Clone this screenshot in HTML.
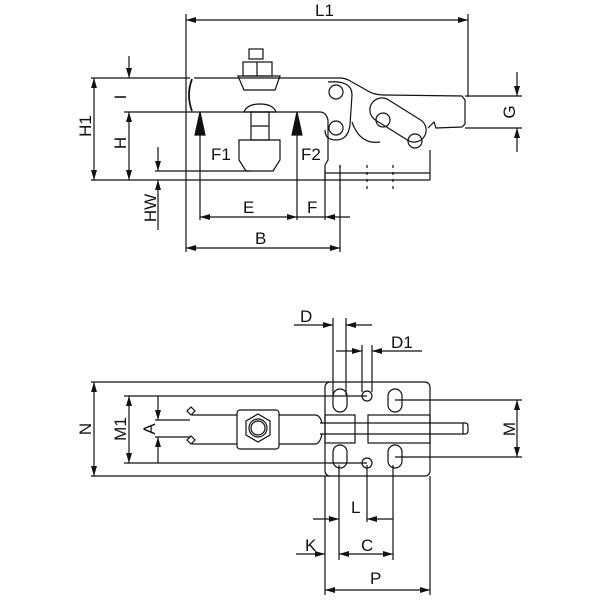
<!DOCTYPE html>
<html><head><style>body{margin:0;background:#fff}svg{display:block}text{font-family:"Liberation Sans",sans-serif;font-size:17px;fill:#111}</style></head>
<body>
<svg width="600" height="600" viewBox="0 0 600 600" xmlns="http://www.w3.org/2000/svg">
<defs>
<marker id="a" viewBox="0 0 10 6" refX="10" refY="3" markerWidth="10" markerHeight="6" orient="auto-start-reverse" markerUnits="userSpaceOnUse"><path d="M0,0L10,3L0,6z" fill="#111"/></marker>
</defs>
<g stroke="#111" stroke-width="1.2" fill="none">
<!-- TOP VIEW dims -->
<line x1="186" y1="14" x2="186" y2="252"/><line x1="468" y1="14" x2="468" y2="97"/>
<line x1="186" y1="20" x2="468" y2="20" marker-start="url(#a)" marker-end="url(#a)"/>
<line x1="91" y1="78" x2="190" y2="78"/><line x1="124" y1="112" x2="195" y2="112"/>
<line x1="91" y1="180" x2="430" y2="180"/>
<line x1="94" y1="78" x2="94" y2="180" marker-start="url(#a)" marker-end="url(#a)"/>
<line x1="129" y1="56" x2="129" y2="78" marker-end="url(#a)"/>
<line x1="129" y1="112" x2="129" y2="180" marker-start="url(#a)" marker-end="url(#a)"/>
<line x1="155" y1="171" x2="250" y2="171"/>
<line x1="158" y1="147" x2="158" y2="171" marker-end="url(#a)"/>
<line x1="158" y1="230" x2="158" y2="180" marker-end="url(#a)"/>
<line x1="200" y1="220" x2="200" y2="112"/>
<path d="M195,135L200,112L205,135z" fill="#111"/>
<line x1="297" y1="220" x2="297" y2="112"/>
<path d="M292,135L297,112L302,135z" fill="#111"/>
<line x1="200" y1="217" x2="297" y2="217" marker-start="url(#a)" marker-end="url(#a)"/>
<line x1="297" y1="217" x2="325" y2="217"/>
<line x1="350" y1="217" x2="325" y2="217" marker-end="url(#a)"/>
<line x1="325" y1="170" x2="325" y2="220"/>
<line x1="340" y1="165" x2="340" y2="252"/>
<line x1="186" y1="248" x2="340" y2="248" marker-start="url(#a)" marker-end="url(#a)"/>
<line x1="465" y1="96" x2="522" y2="96"/><line x1="465" y1="128" x2="522" y2="128"/>
<line x1="517" y1="72" x2="517" y2="96" marker-end="url(#a)"/>
<line x1="517" y1="152" x2="517" y2="128" marker-end="url(#a)"/>
<!-- clamp top -->
<path d="M192,79Q186,95 192,111" stroke-width="1.8"/>
<path d="M194,78L340,78Q346,78 352,82L368,91Q374,95 385,95L462,96L465,100L465,124L462,127L436,128L434,122L428,128"/>
<path d="M194,112L320,112Q326,112 328,120L328,160L325,165"/>
<circle cx="336" cy="92" r="7"/><circle cx="336" cy="128" r="7"/>
<path d="M328,82Q352,80 352,95L350,125Q348,140 336,140Q325,140 325,130"/>
<path d="M352,122Q360,145 380,142"/>
<rect x="367" y="108" width="62" height="24" rx="12" transform="rotate(32 398 120)"/>
<circle cx="383" cy="120" r="7"/><circle cx="415" cy="141" r="7"/>
<path d="M325,165L325,180M325,173L430,173L430,180M430,150L430,173"/>
<line x1="340" y1="165" x2="340" y2="190" stroke-dasharray="3,4"/>
<line x1="367" y1="165" x2="367" y2="190" stroke-dasharray="3,4"/>
<line x1="393" y1="165" x2="393" y2="190" stroke-dasharray="3,4"/>
<!-- bolt -->
<rect x="249" y="49" width="14" height="10"/>
<rect x="243" y="62" width="29" height="14"/><line x1="257" y1="62" x2="257" y2="76"/>
<path d="M238,76L280,76L275,90L244,90z"/>
<path d="M244,112Q247,104 260,104Q273,104 276,112z"/>
<rect x="251" y="112" width="18" height="28"/><line x1="251" y1="126" x2="269" y2="126"/>
<path d="M239,140L280,140L280,160L273,171L246,171L239,160z"/>
<!-- BOTTOM VIEW dims -->
<line x1="91" y1="382" x2="330" y2="382"/><line x1="91" y1="476" x2="330" y2="476"/>
<line x1="94" y1="382" x2="94" y2="476" marker-start="url(#a)" marker-end="url(#a)"/>
<line x1="124" y1="396" x2="367" y2="396"/><line x1="124" y1="463" x2="367" y2="463"/>
<line x1="129" y1="396" x2="129" y2="463" marker-start="url(#a)" marker-end="url(#a)"/>
<line x1="158" y1="396" x2="158" y2="420" marker-end="url(#a)"/>
<line x1="158" y1="463" x2="158" y2="437" marker-end="url(#a)"/>
<line x1="155" y1="420" x2="190" y2="420"/><line x1="155" y1="437" x2="190" y2="437"/>
<line x1="395" y1="400" x2="522" y2="400"/><line x1="395" y1="457" x2="522" y2="457"/>
<line x1="517" y1="400" x2="517" y2="457" marker-start="url(#a)" marker-end="url(#a)"/>
<line x1="333" y1="318" x2="333" y2="395"/><line x1="346" y1="318" x2="346" y2="395"/>
<line x1="294" y1="325" x2="333" y2="325" marker-end="url(#a)"/>
<line x1="372" y1="325" x2="346" y2="325" marker-end="url(#a)"/>
<line x1="362" y1="345" x2="362" y2="392"/><line x1="372" y1="345" x2="372" y2="392"/>
<line x1="336" y1="351" x2="362" y2="351" marker-end="url(#a)"/>
<line x1="422" y1="351" x2="372" y2="351" marker-end="url(#a)"/>
<line x1="325" y1="476" x2="325" y2="595"/><line x1="430" y1="476" x2="430" y2="595"/>
<line x1="339" y1="465" x2="339" y2="560"/><line x1="367" y1="465" x2="367" y2="522"/><line x1="393" y1="465" x2="393" y2="560"/>
<line x1="313" y1="519" x2="339" y2="519" marker-end="url(#a)"/>
<line x1="393" y1="519" x2="367" y2="519" marker-end="url(#a)"/>
<line x1="296" y1="554" x2="325" y2="554" marker-end="url(#a)"/>
<line x1="339" y1="554" x2="393" y2="554" marker-start="url(#a)" marker-end="url(#a)"/>
<line x1="325" y1="590" x2="430" y2="590" marker-start="url(#a)" marker-end="url(#a)"/>
<!-- bottom clamp -->
<rect x="325" y="382" width="105" height="94" rx="5"/>
<rect x="333" y="389" width="14" height="23" rx="7"/><rect x="388" y="389" width="14" height="23" rx="7"/>
<rect x="333" y="445" width="14" height="23" rx="7"/><rect x="388" y="445" width="14" height="23" rx="7"/>
<circle cx="367" cy="396" r="5"/><circle cx="367" cy="463" r="5"/>
<rect x="325" y="415" width="30" height="28"/><rect x="368" y="415" width="62" height="28"/>
<path d="M320,423L465,423Q468,423 468,426L468,431Q468,434 465,434L320,434"/>
<line x1="463" y1="423" x2="463" y2="434"/>
<path d="M192,415L237,415M279,415L315,415Q320,415 322,423M192,444L237,444M279,444L315,444Q320,444 322,434"/>
<path d="M187,411l4,-4l4,4l-4,4z M187,440l4,-4l4,4l-4,4z"/>
<rect x="237" y="410" width="42" height="39" rx="3"/>
<path d="M258,414L270,421L270,435L258,442L246,435L246,421z"/>
<circle cx="258" cy="428" r="9"/><circle cx="258" cy="428" r="7"/>
</g>
<g>
<text x="315" y="16">L1</text>
<text x="211" y="160">F1</text>
<text x="301" y="160">F2</text>
<text x="243" y="213">E</text>
<text x="307" y="213">F</text>
<text x="255" y="244">B</text>
<text transform="translate(91,126) rotate(-90)" text-anchor="middle">H1</text>
<text transform="translate(126,143) rotate(-90)" text-anchor="middle">H</text>
<text transform="translate(126,97) rotate(-90)" text-anchor="middle">I</text>
<text transform="translate(156,208) rotate(-90)" text-anchor="middle">HW</text>
<text transform="translate(515,112) rotate(-90)" text-anchor="middle">G</text>
<text x="300" y="322">D</text>
<text x="391" y="348">D1</text>
<text x="351" y="513">L</text>
<text x="305" y="551">K</text>
<text x="361" y="551">C</text>
<text x="370" y="584">P</text>
<text transform="translate(91,429) rotate(-90)" text-anchor="middle">N</text>
<text transform="translate(126,429) rotate(-90)" text-anchor="middle">M1</text>
<text transform="translate(155,429) rotate(-90)" text-anchor="middle">A</text>
<text transform="translate(515,429) rotate(-90)" text-anchor="middle">M</text>
</g>
</svg>
</body></html>
